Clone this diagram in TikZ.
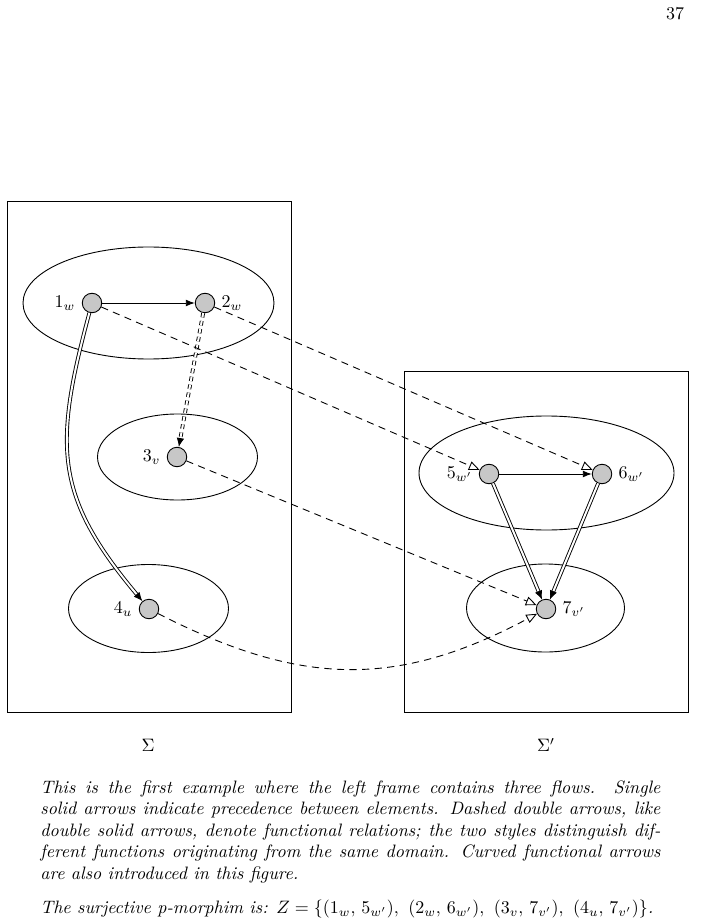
\documentclass[tikz,border=0pt]{standalone}
\usetikzlibrary{arrows.meta,shapes.geometric}
\definecolor{ptgray}{gray}{0.78}
\def\pxu{0.5565pt}
\begin{document}
\begin{tikzpicture}[x=0.5565pt,y=0.5565pt,line width=0.5pt,
  pt/.style={circle,draw,fill=ptgray,minimum size=19.5*\pxu,inner sep=0pt},
  ell/.style={ellipse,draw,inner sep=0pt},
  prec/.style={-{Latex[length=5pt,width=3.8pt]}},
  func/.style={double,double distance=1.1pt,-{Latex[length=5pt,width=4.2pt]}},
  dfunc/.style={func,dash pattern=on 2.5pt off 2pt},
  morph/.style={dash pattern=on 4pt off 3pt,-{Triangle[open,length=6pt,width=5pt]}}]
\useasboundingbox (0,0) rectangle (700,-923);
% page number
\node (pg) at (675,-14) {37};
% frames
\draw (7,-201) rectangle (291,-712);
\draw (404,-371) rectangle (688,-712);
% ellipses
\node[ell,minimum width=251*\pxu,minimum height=112*\pxu] (E1) at (148.5,-303) {};
\node[ell,minimum width=160*\pxu,minimum height=86*\pxu] (E2) at (177.5,-457) {};
\node[ell,minimum width=160*\pxu,minimum height=88*\pxu] (E3) at (148.5,-608.5) {};
\node[ell,minimum width=255*\pxu,minimum height=114*\pxu] (E4) at (546.5,-473) {};
\node[ell,minimum width=158*\pxu,minimum height=88*\pxu] (E5) at (545.5,-608) {};
% points
\node[pt,label={left:$1_w$}] (n1) at (92,-303) {};
\node[pt,label={right:$2_w$}] (n2) at (205,-303) {};
\node[pt,label={left:$3_v$}] (n3) at (177,-457) {};
\node[pt,label={left:$4_u$}] (n4) at (149,-609) {};
\node[pt,label={left:$5_{w'}$}] (n5) at (489,-474) {};
\node[pt,label={right:$6_{w'}$}] (n6) at (602,-474) {};
\node[pt,label={right:$7_{v'}$}] (n7) at (546,-609) {};
% precedence
\draw[prec] (n1) -- (n2);
\draw[prec] (n5) -- (n6);
% functional
\draw[dfunc] (n2) -- (n3);
\draw[func] (n1) to[out=-105,in=130,looseness=1.2] (n4);
\draw[func] (n5) -- (n7);
\draw[func] (n6) -- (n7);
% morphism
\draw[morph] (n1) -- (n5);
\draw[morph] (n2) -- (n6);
\draw[morph] (n3) -- (n7);
\draw[morph] (n4) to[out=-27,in=-152,looseness=1.08] (n7);
% frame names
\node (s1) at (148,-745) {$\Sigma$};
\node (s2) at (546,-745) {$\Sigma'$};
% caption
\node[anchor=north west,inner sep=0pt,text width=620*\pxu,align=justify,font=\itshape] (cap) at (40,-780)
{This is the first example where the left frame contains three flows. Single\linebreak
solid arrows indicate precedence between elements. Dashed double arrows, like\linebreak
double solid arrows, denote functional relations; the two styles distinguish dif-\linebreak
ferent functions originating from the same domain. Curved functional arrows\linebreak
are also introduced in this figure.\par\vspace{7pt}
The surjective p-morphim is: $Z=\{(1_w,\,5_{w'}),\ (2_w,\,6_{w'}),\ (3_v,\,7_{v'}),\ (4_u,\,7_{v'})\}$.};
\end{tikzpicture}
\end{document}
